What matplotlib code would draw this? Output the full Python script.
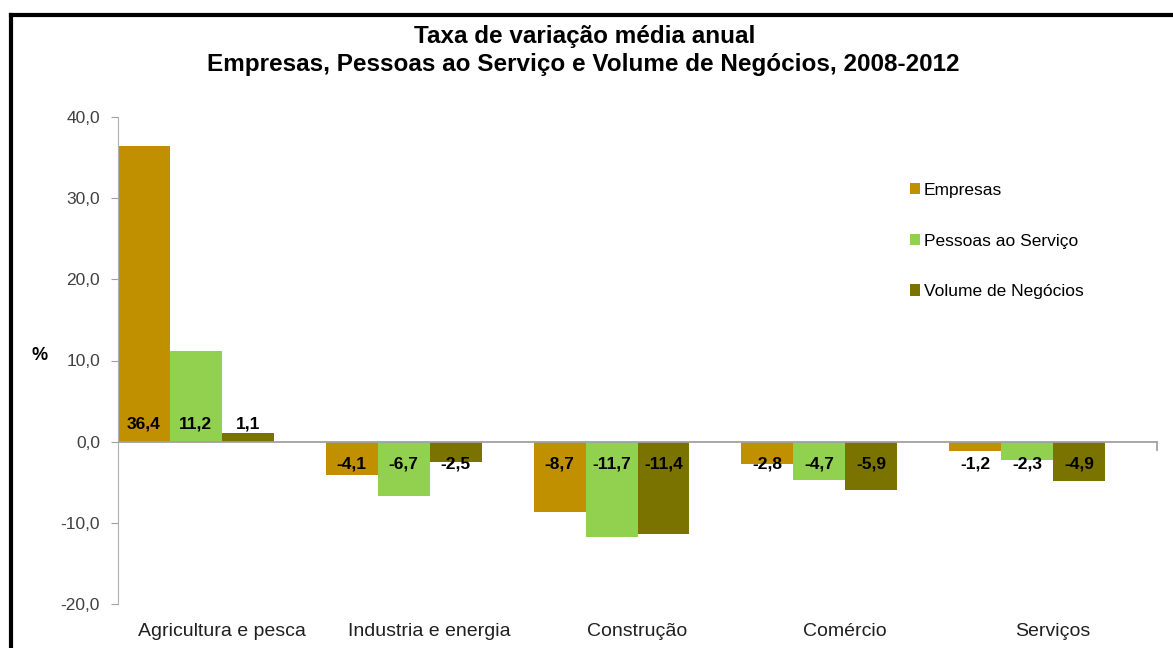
import numpy as np
import matplotlib.pyplot as plt
from matplotlib.lines import Line2D

plt.rcParams['font.family'] = ['Liberation Sans', 'DejaVu Sans']

setores = ["Agricultura e pesca", "Industria e energia", "Construção", "Comércio", "Serviços"]
series = ["Empresas", "Pessoas ao Serviço", "Volume de Negócios"]
empresas = [36.4, -4.1, -8.7, -2.8, -1.2]
pessoas = [11.2, -6.7, -11.7, -4.7, -2.3]
volume = [1.1, -2.5, -11.4, -5.9, -4.9]
valores = [empresas, pessoas, volume]
cores = ["#C09000", "#92D050", "#7A7300"]

fig = plt.figure(figsize=(11.73, 6.48), dpi=100)
ax = fig.add_axes([118/1173, 44/648, 1039/1173, 487/648])

x = np.arange(len(setores))
w = 0.25
for k, (nome, vals, cor) in enumerate(zip(series, valores, cores)):
    pos = x - 0.5 + w/2 + k*w
    ax.bar(pos, vals, width=w, color=cor, label=nome)
    for p, v in zip(pos, vals):
        ytxt = 2.2 if v > 0 else -2.7
        ax.text(p, ytxt, f"{v:.1f}".replace(".", ","), ha="center", va="center",
                fontsize=12.5, fontweight="bold", color="black")

ax.set_xlim(-0.5, len(setores) - 0.5)
ax.set_ylim(-20, 40)
ax.set_yticks([-20, -10, 0, 10, 20, 30, 40])
ax.set_yticklabels([f"{t:.1f}".replace(".", ",") for t in [-20, -10, 0, 10, 20, 30, 40]],
                   fontsize=12.5, color="#404040")
ax.tick_params(axis="y", length=5, color="#A0A0A0", pad=8)

for s in ["top", "right", "bottom"]:
    ax.spines[s].set_visible(False)
ax.spines["left"].set_color("#B0B0B0")
ax.axhline(0, color="#A0A0A0", lw=1.3, zorder=3)
ax.plot([len(setores) - 0.5] * 2, [0, -1.0], color="#A0A0A0", lw=1.3, clip_on=False)

ax.set_xticks([])
for i, s in enumerate(setores):
    ax.text(i, -23.4, s, ha="center", va="center", fontsize=14, color="#202020")

fig.text(40/1173, 1 - 355/648, "%", fontsize=13, fontweight="bold", ha="center", va="center")

fig.text(585/1173, 1 - 36/648, "Taxa de variação média anual", fontsize=17.5,
         fontweight="bold", ha="center", va="center")
fig.text(583/1173, 1 - 64/648, "Empresas, Pessoas ao Serviço e Volume de Negócios, 2008-2012",
         fontsize=17.5, fontweight="bold", ha="center", va="center")

ax.legend(loc="upper left", bbox_to_anchor=(903/1173, 1 - 176/648), bbox_transform=fig.transFigure,
          frameon=False, fontsize=12.5, handlelength=0.6, handleheight=0.6, handletextpad=0.2,
          labelspacing=2.05, borderaxespad=0)

fig.add_artist(Line2D([11/1173, 11/1173], [0, 1 - 15/648], color="black", lw=3, transform=fig.transFigure))
fig.add_artist(Line2D([11/1173, 1], [1 - 15/648, 1 - 15/648], color="black", lw=3, transform=fig.transFigure))

fig.savefig("out.png", dpi=100)
